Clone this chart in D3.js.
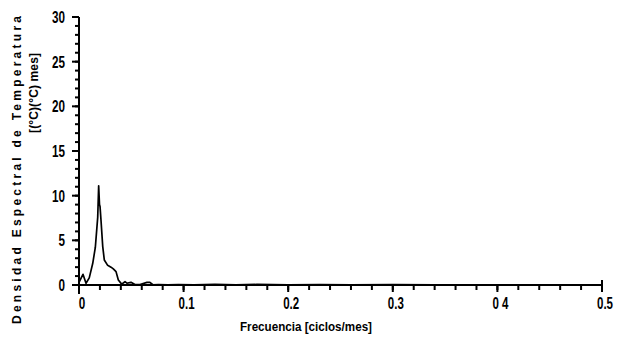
<!DOCTYPE html>
<html><head><meta charset="utf-8">
<script src="https://cdn.jsdelivr.net/npm/d3@7"></script>
<style>
html,body{margin:0;padding:0;background:#fff;}
svg{display:block;}
text{font-family:"Liberation Sans",Arial,sans-serif;font-weight:bold;fill:#000;}
</style></head><body>
<div id="chart"></div>
<script>
const freq = [0, 0.0038, 0.0067, 0.0098, 0.0131, 0.0156, 0.0179, 0.0188, 0.0196, 0.0201, 0.021, 0.0227, 0.0242, 0.0274, 0.0306, 0.0328, 0.0354, 0.0376, 0.0408, 0.044, 0.0458, 0.0497, 0.0535, 0.0583, 0.0650, 0.0678, 0.0706, 0.0760, 0.085, 0.095, 0.11, 0.13, 0.15, 0.17, 0.2, 0.23, 0.26, 0.3, 0.34, 0.38, 0.42, 0.46, 0.5];
const dens = [0.3, 1.2, 0.2, 0.8, 2.4, 4.2, 7.6, 11.1, 9.0, 8.8, 7.3, 4.3, 2.8, 2.2, 2.0, 1.8, 1.5, 0.56, 0.1, 0.37, 0.2, 0.3, 0.05, 0.05, 0.3, 0.3, 0.03, 0.05, 0.02, 0.05, 0.03, 0.08, 0.03, 0.06, 0.02, 0.05, 0.02, 0.04, 0.02, 0.03, 0.02, 0.02, 0.02];
const xMajor = [0, 0.1, 0.2, 0.3, 0.4, 0.5];
const xMajorLabels = ["0", "0.1", "0.2", "0.3", "0 4", "0.5"];
const xMinor = d3.range(0, 0.5001, 0.02);
const yMajor = [0, 5, 10, 15, 20, 25, 30];
const yMinor = d3.range(0, 30.001, 1);
const xTitle = "Frecuencia [ciclos/mes]";
const yTitle1 = "Densidad Espectral de Temperatura";
const yTitle2 = "[(°C)(°C) mes]";

const W = 629, H = 348;
const svg = d3.select("#chart").append("svg").attr("width", W).attr("height", H);
const x = d3.scaleLinear().domain([0, 0.5]).range([79, 602]);
const y = d3.scaleLinear().domain([0, 30]).range([285, 17]);
const x0 = x(0), y0 = y(0);

// tick marks
const tg = svg.append("g").attr("fill", "#000");
tg.selectAll("rect.ymin").data(yMinor).join("rect").attr("class", "ymin")
  .attr("x", x0 - 4).attr("y", d => y(d) - 1).attr("width", 4).attr("height", 2);
tg.selectAll("rect.ymaj").data(yMajor).join("rect").attr("class", "ymaj")
  .attr("x", x0 - 7).attr("y", d => y(d) - 1).attr("width", 7).attr("height", 2);
tg.selectAll("rect.xmin").data(xMinor).join("rect").attr("class", "xmin")
  .attr("x", d => x(d) - 1).attr("y", y0).attr("width", 2).attr("height", 5);
tg.selectAll("rect.xmaj").data(xMajor).join("rect").attr("class", "xmaj")
  .attr("x", d => x(d) - 1).attr("y", y0).attr("width", 2).attr("height", 7);

// tick labels
svg.append("g").selectAll("text").data(yMajor).join("text")
  .attr("x", 65).attr("y", d => y(d) + 6).attr("text-anchor", "end")
  .style("font-size", "16px")
  .attr("textLength", d => String(d).length * 6.5).attr("lengthAdjust", "spacingAndGlyphs")
  .text(d => String(d));

svg.append("g").selectAll("text").data(xMajor).join("text")
  .attr("x", d => x(d) + 3).attr("y", 309).attr("text-anchor", "middle")
  .style("font-size", "16px")
  .attr("textLength", (d, i) => xMajorLabels[i].length === 1 ? 6.5 : 16).attr("lengthAdjust", "spacingAndGlyphs")
  .text((d, i) => xMajorLabels[i]);

// axis lines
svg.append("rect").attr("x", x0 - 1).attr("y", y(30)).attr("width", 2).attr("height", y0 + 9 - y(30)).attr("fill", "#000");
svg.append("rect").attr("x", x0 - 7).attr("y", y0 - 1).attr("width", x(0.5) - x0 + 8).attr("height", 2).attr("fill", "#000");
svg.append("rect").attr("x", x(0.5) - 1).attr("y", y0 - 5).attr("width", 2).attr("height", 5).attr("fill", "#000");

// curve
const line = d3.line().x((d, i) => x(freq[i])).y(d => y(d));
svg.append("path").datum(dens).attr("d", line)
  .attr("fill", "none").attr("stroke", "#000").attr("stroke-width", 1.7).attr("stroke-linejoin", "round");

// titles
svg.append("text").attr("x", 306).attr("y", 331).attr("text-anchor", "middle")
  .style("font-size", "12px").attr("textLength", 132).attr("lengthAdjust", "spacingAndGlyphs").text(xTitle);
svg.append("text").attr("transform", "translate(21,170) rotate(-90)").attr("text-anchor", "middle")
  .style("font-size", "12px").attr("textLength", 308).attr("lengthAdjust", "spacing").text(yTitle1);
svg.append("text").attr("transform", "translate(38,93) rotate(-90)").attr("text-anchor", "middle")
  .style("font-size", "12px").attr("textLength", 80).attr("lengthAdjust", "spacing").text(yTitle2);
</script>
</body></html>
